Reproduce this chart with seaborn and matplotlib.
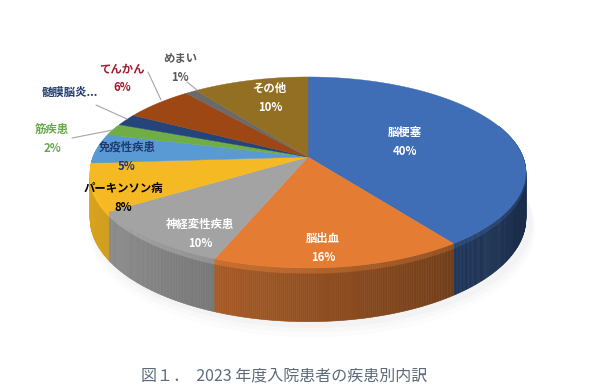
import matplotlib

matplotlib.use("Agg")
import matplotlib.pyplot as plt
import numpy as np
import seaborn as sns
from matplotlib.colors import to_rgb

# data
diseases = [
    "脳梗塞",
    "脳出血",
    "神経変性疾患",
    "パーキンソン病",
    "免疫性疾患",
    "筋疾患",
    "髄膜脳炎...",
    "てんかん",
    "めまい",
    "その他",
]
shares = [40, 16, 10, 8, 5, 2, 2, 6, 1, 10]
show_pct = [True, True, True, True, True, True, False, True, True, True]

# styles / layout
slice_colors = [
    "#3f6db6", "#e57c33", "#a3a3a3", "#f5b923", "#5a9ad4",
    "#6fad47", "#25457a", "#9c4714", "#6a6a6a", "#926f22",
]
text_colors = [
    "white", "white", "white", "black", "#1f3a6e",
    "#6aa84f", "#1f3a6e", "#a3182a", "#595959", "white",
]
label_xy = [
    (405, 142), (323, 248), (200, 234), (123, 198), (127, 157),
    (52, 139), (70, 92), (122, 78), (180, 68), (270, 98),
]
leaders = [
    None, None, None, None, None,
    [(72, 138), (113, 130)],
    [(96, 105), (127, 119)],
    [(148, 72), (161, 100)],
    [(187, 82), (197, 90)],
    None,
]

CX, CY, RX, RY, K, DEPTH, RIM = 308, 157, 215, 93, 0.162, 45, 5


def project(phi, r=1.0, z=0.0):
    u = r * np.sin(phi)
    v = r * np.cos(phi)
    w = 1 + K * v
    return CX + RX * u / w, CY - RY * v / w + z / w


def shade(color, factor):
    return tuple(min(1.0, c * factor) for c in to_rgb(color))


sns.set_theme(style="white")
plt.rcParams["font.family"] = ["Noto Sans CJK JP", "DejaVu Sans"]

fig = plt.figure(figsize=(6, 3.91), dpi=100)
ax = fig.add_axes([0, 0, 1, 1])
ax.set_xlim(0, 600)
ax.set_ylim(391, 0)
ax.axis("off")

bounds = np.concatenate([[0], np.cumsum(shares)]) / sum(shares) * 2 * np.pi

# soft shadow under the pie
full = np.linspace(0, 2 * np.pi, 240)
for grow, alpha in [(10, 0.025), (7, 0.03), (4, 0.04)]:
    sx, sy = project(full, 1.0 + grow / 400, DEPTH + grow)
    ax.fill(sx + 4, sy, color="#808080", alpha=alpha, lw=0, zorder=1)

# side wall, drawn back to front
quads = []
for i, col in enumerate(slice_colors):
    steps = np.linspace(bounds[i], bounds[i + 1], max(3, int(shares[i] * 8)))
    for a, b in zip(steps[:-1], steps[1:]):
        mid = (a + b) / 2
        if np.cos(mid) > 0.35:
            continue
        factor = 0.64 - 0.25 * np.sin(mid)
        for z0, z1, f in [(0, RIM, factor + 0.15), (RIM, DEPTH, factor)]:
            x1, y1 = project(a, z=z0)
            x2, y2 = project(b, z=z0)
            x3, y3 = project(b, z=z1)
            x4, y4 = project(a, z=z1)
            quads.append((np.cos(mid), [x1, x2, x3, x4], [y1, y2, y3, y4], shade(col, f)))
quads.sort(key=lambda q: -q[0])
for _, xs, ys, c in quads:
    ax.fill(xs, ys, color=c, lw=0.4, ec=c, zorder=2)

# top faces
for i, col in enumerate(slice_colors):
    arc = np.linspace(bounds[i], bounds[i + 1], max(4, int(shares[i] * 6)))
    ax_, ay_ = project(arc)
    xs = np.concatenate([[CX], ax_])
    ys = np.concatenate([[CY], ay_])
    ax.fill(xs, ys, color=col, lw=0.3, ec=col, zorder=3)

# labels
for i, name in enumerate(diseases):
    txt = f"{name}\n{shares[i]}%" if show_pct[i] else name
    ax.text(
        label_xy[i][0], label_xy[i][1], txt,
        ha="center", va="center", fontsize=8.2, fontweight="bold",
        color=text_colors[i], linespacing=1.6, zorder=5,
    )
    if leaders[i]:
        (x0, y0), (x1, y1) = leaders[i]
        ax.plot([x0, x1], [y0, y1], color="#a6a6a6", lw=0.8, zorder=4)

ax.text(
    284, 376, "図１．  2023 年度入院患者の疾患別内訳",
    ha="center", va="center", fontsize=11.5, color="#5d6b7a", zorder=5,
)

plt.savefig("out.png", dpi=100)
